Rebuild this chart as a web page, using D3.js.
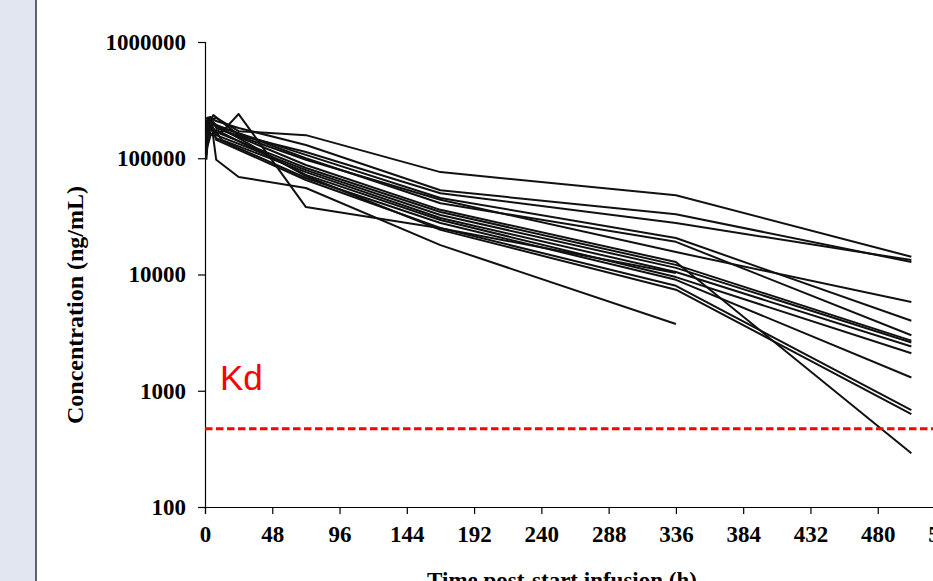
<!DOCTYPE html>
<html>
<head>
<meta charset="utf-8">
<script src="https://cdn.jsdelivr.net/npm/d3@7"></script>
<style>
  html, body { margin: 0; padding: 0; background: #fff; overflow: hidden; }
  svg { display: block; }
</style>
</head>
<body>
<svg id="svg"></svg>
<script>
var width = 933;
var height = 581;

// sampling times (h) and individual concentrations (ng/mL), null = no sample
var sampleTimes = [1, 2, 4, 6, 8, 12, 24, 72, 168, 336, 504];
var subjects = [
  [182000, 213000, null, null, 222000, null, 171000, 158000, 76000, 48000, 14200],
  [205000, null, 222000, null, 209000, null, 182000, 130000, 53000, 33000, 12800],
  [130000, 193000, null, 235000, null, null, 158000, 113000, 50000, 27700, 13300],
  [222000, null, 197000, null, 189000, null, null, 107000, 45500, 20600, 4000],
  [158000, 222000, null, null, 193000, null, null, 100000, 41000, 19100, 3000],
  [118000, 175000, 226000, null, 182000, null, null, 97000, 44000, 15600, 5800],
  [193000, null, 213000, null, null, 175000, null, 87500, 36000, 12800, 290],
  [144000, 205000, null, null, 168000, null, null, 82400, 34500, 12100, 2700],
  [175000, null, 205000, null, 158000, null, null, 79000, 32500, 11400, 2600],
  [107000, 158000, 193000, null, null, 144000, null, 76000, 30600, 10500, 2400],
  [213000, null, 158000, null, 175000, null, null, 72000, 29400, 9500, 2100],
  [97000, 144000, 182000, null, 149000, null, null, 67600, 27700, 9000, 1300],
  [168000, null, 205000, null, 144000, null, null, 65000, 25100, 8000, 680],
  [149000, 182000, null, 197000, null, null, null, 70300, 24200, 7400, 630],
  [118000, null, 158000, null, null, 168000, 240000, 38000, 25000, 10300, null],
  [222000, null, 226000, null, 97000, null, 69000, 55500, 17900, 3750, null]
];
var kd = 470;
var xTicks = [0, 48, 96, 144, 192, 240, 288, 336, 384, 432, 480, 528];
var yTicks = [100, 1000, 10000, 100000, 1000000];

var svg = d3.select('#svg')
  .attr('width', width)
  .attr('height', height);

// slide side panel
svg.append('rect')
  .attr('x', 0).attr('y', 0)
  .attr('width', 35).attr('height', height)
  .attr('fill', '#e1e6f1');
svg.append('line')
  .attr('x1', 36).attr('x2', 36)
  .attr('y1', 0).attr('y2', height)
  .attr('stroke', '#5b6377')
  .attr('stroke-width', 2);

var x = d3.scaleLinear().domain([0, 528]).range([205, 945]);
var y = d3.scaleLog().domain([100, 1000000]).range([507, 42]);

var serif = '"Liberation Serif", "Times New Roman", serif';

// y axis
var yAxis = svg.append('g')
  .attr('transform', 'translate(205,0)')
  .call(d3.axisLeft(y).tickValues(yTicks).tickFormat(d3.format('d')).tickSize(7).tickPadding(12));
yAxis.select('.domain').attr('stroke', '#000').attr('stroke-width', 1.2);
yAxis.selectAll('.tick line').attr('stroke-width', 1.2);
yAxis.selectAll('text')
  .attr('font-family', serif)
  .attr('font-weight', 'bold')
  .attr('font-size', 23)
  .attr('fill', '#000');

// x axis
var xAxis = svg.append('g')
  .attr('transform', 'translate(0,507)')
  .call(d3.axisBottom(x).tickValues(xTicks).tickSize(7).tickPadding(12));
xAxis.select('.domain').attr('stroke', '#000').attr('stroke-width', 1.2);
xAxis.selectAll('.tick line').attr('stroke-width', 1.2);
xAxis.selectAll('text')
  .attr('font-family', serif)
  .attr('font-weight', 'bold')
  .attr('font-size', 23)
  .attr('fill', '#000');

// axis titles
svg.append('text')
  .attr('transform', 'translate(83,305) rotate(-90)')
  .attr('text-anchor', 'middle')
  .attr('font-family', serif)
  .attr('font-weight', 'bold')
  .attr('font-size', 24)
  .text('Concentration (ng/mL)');

svg.append('text')
  .attr('x', 562).attr('y', 588)
  .attr('text-anchor', 'middle')
  .attr('font-family', serif)
  .attr('font-weight', 'bold')
  .attr('font-size', 23)
  .text('Time post-start infusion (h)');

// individual profiles
var line = d3.line()
  .defined(function (d) { return d[1] != null; })
  .x(function (d) { return x(d[0]); })
  .y(function (d) { return y(d[1]); });

subjects.forEach(function (conc) {
  var pts = sampleTimes.map(function (t, i) { return [t, conc[i]]; })
    .filter(function (d) { return d[1] != null; });
  svg.append('path')
    .attr('d', line(pts))
    .attr('fill', 'none')
    .attr('stroke', '#111')
    .attr('stroke-width', 2)
    .attr('stroke-linejoin', 'round');
});

// Kd reference
svg.append('line')
  .attr('x1', x(0)).attr('x2', width)
  .attr('y1', y(kd)).attr('y2', y(kd))
  .attr('stroke', '#ff0000')
  .attr('stroke-width', 3)
  .attr('stroke-dasharray', '7.5,3.5');

svg.append('text')
  .attr('x', 220).attr('y', 390)
  .attr('font-family', '"Liberation Sans", Arial, sans-serif')
  .attr('font-size', 35)
  .attr('fill', '#ff0000')
  .text('Kd');
</script>
</body>
</html>
